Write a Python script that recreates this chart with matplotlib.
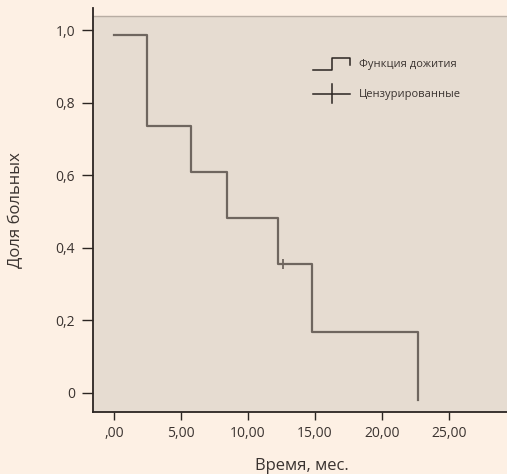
import matplotlib
matplotlib.use("Agg")
import matplotlib.pyplot as plt
from matplotlib.patches import Rectangle
from matplotlib.lines import Line2D

# Data (Kaplan-Meier survival function)
times = [0.0, 2.46, 5.77, 8.43, 12.24, 14.8, 22.7]
survival = [0.986, 0.735, 0.609, 0.481, 0.356, 0.169, -0.02]
censor_times = [12.6]
censor_surv = [0.356]

xticks = [0, 5, 10, 15, 20, 25]
xtick_labels = [",00", "5,00", "10,00", "15,00", "20,00", "25,00"]
yticks = [0, 0.2, 0.4, 0.6, 0.8, 1.0]
ytick_labels = ["0", "0,2", "0,4", "0,6", "0,8", "1,0"]

plt.rcParams['font.family'] = ['Open Sans', 'DejaVu Sans']

W, H = 507, 474
fig = plt.figure(figsize=(W / 100, H / 100), dpi=100)
fig.patch.set_facecolor("#FDF0E4")

left, right, top, bottom = 93, 507, 8, 412
ax = fig.add_axes([left / W, 1 - bottom / H, (right - left) / W, (bottom - top) / H])
ax.set_facecolor("#FDF0E4")

px_x = 13.4
px_y = 363.0
x0_px, y0_px = 114, 393
ax.set_xlim((left - x0_px) / px_x, (right - x0_px) / px_x)
ax.set_ylim((y0_px - bottom) / px_y, (y0_px - top) / px_y)

# gray plot area
frac = (bottom - 16) / (bottom - top)
ax.add_patch(Rectangle((0, 0), 1, frac, transform=ax.transAxes,
                       facecolor="#E6DCD1", edgecolor="none", zorder=0))
ax.add_line(Line2D([0, 1], [frac, frac], transform=ax.transAxes,
                   color="#B8ADA3", lw=1.0, zorder=1))

line_color = "#6F665F"
ax.step(times, survival, where="post", color=line_color, lw=1.6, zorder=3)
ax.plot(censor_times, censor_surv, marker="|", ms=7, mew=1.3,
        color=line_color, ls="none", zorder=4)

for s in ["top", "right"]:
    ax.spines[s].set_visible(False)
for s in ["left", "bottom"]:
    ax.spines[s].set_color("#2B2522")
    ax.spines[s].set_linewidth(1.3)

ax.set_xticks(xticks)
ax.set_xticklabels(xtick_labels)
ax.set_yticks(yticks)
ax.set_yticklabels(ytick_labels)
ax.tick_params(axis="both", colors="#2B2522", labelcolor="#3A3330",
               labelsize=10, width=1.0, direction="out")
ax.tick_params(axis="x", length=6, pad=4)
ax.tick_params(axis="y", length=8, pad=5)

fig.text(302 / W, 1 - 466 / H, "Время, мес.", ha="center", va="center",
         fontsize=12, color="#3A3330")
fig.text(16 / W, 1 - 210 / H, "Доля больных", ha="center", va="center",
         rotation=90, fontsize=12, color="#3A3330")

# legend (custom)
def fx(px):
    return px / W

def fy(py):
    return 1 - py / H

lx = [313, 332, 332, 350, 350]
ly = [70, 70, 58, 58, 65]
fig.add_artist(Line2D([fx(v) for v in lx], [fy(v) for v in ly],
                      color="#2B2522", lw=1.1))
fig.text(fx(359), fy(64), "Функция дожития", ha="left", va="center",
         fontsize=8, color="#3A3330")
fig.add_artist(Line2D([fx(313), fx(350)], [fy(94), fy(94)],
                      color="#2B2522", lw=1.1))
fig.add_artist(Line2D([fx(332), fx(332)], [fy(84), fy(103)],
                      color="#2B2522", lw=1.1))
fig.text(fx(359), fy(94), "Цензурированные", ha="left", va="center",
         fontsize=8, color="#3A3330")

fig.savefig("out.png", dpi=100, facecolor=fig.get_facecolor())
